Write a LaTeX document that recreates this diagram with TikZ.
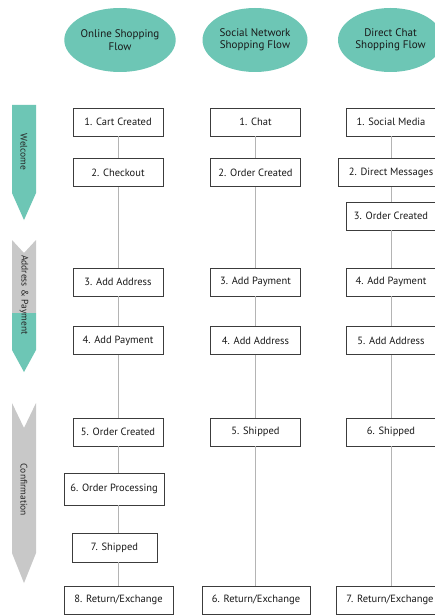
\documentclass[tikz,border=0pt]{standalone}
\usepackage{fontspec}
\setmainfont{PT Sans}
\usetikzlibrary{shapes.geometric}
\definecolor{flowteal}{HTML}{6DC6B5}
\definecolor{phasegray}{HTML}{C8C8C8}
\definecolor{boxline}{HTML}{3C3C3C}
\definecolor{linkgray}{HTML}{B4B4B4}

\begin{document}
\begin{tikzpicture}[x=1pt,y=-1pt,
    flow/.style={ellipse,fill=flowteal,minimum width=105pt,minimum height=64pt,inner sep=0pt,align=center,text=black!90,font=\fontsize{11}{12.5}\selectfont},
    stepbox/.style={draw=boxline,fill=white,line width=0.7pt,minimum width=90pt,minimum height=28pt,inner sep=2pt,text=black!90,font=\fontsize{10.5}{12}\selectfont},
    link/.style={draw=linkgray,line width=0.9pt},
    phase/.style={rotate=-90,inner sep=0pt,text=black!85,font=\fontsize{9.5}{11}\selectfont}]
    \fill[white] (0,0) rectangle (435,615);
    \useasboundingbox (0,0) rectangle (435,615);

    \fill[flowteal] (12,105)--(36,105)--(36,193)--(24,220)--(12,193)--cycle;
    \fill[phasegray] (12,240)--(24,253)--(36,240)--(36,313)--(12,313)--cycle;
    \fill[flowteal] (12,313)--(36,313)--(36,350)--(24,372)--(12,350)--cycle;
    \fill[phasegray] (12,403)--(24,428)--(36,403)--(36,553)--(24,583)--(12,553)--cycle;
    \node[phase] (welcome) at (24,152) {Welcome};
    \node[phase] (address) at (24,295) {Address \& Payment};
    \node[phase] (confirm) at (24,490) {Confirmation};

    \node[flow] (online) at (120,40) {Online Shopping\\Flow};
    \node[flow] (social) at (255,40) {Social Network\\Shopping Flow};
    \node[flow] (direct) at (390.5,40) {Direct Chat\\Shopping Flow};

    \node[stepbox] (o1) at (118,122) {1. Cart Created};
    \node[stepbox] (o2) at (118,172.5) {2. Checkout};
    \node[stepbox] (o3) at (118,282) {3. Add Address};
    \node[stepbox] (o4) at (118,340.5) {4. Add Payment};
    \node[stepbox] (o5) at (118,432) {5. Order Created};
    \node[stepbox,minimum width=100pt,minimum height=32pt] (o6) at (114,489) {6. Order Processing};
    \node[stepbox,minimum width=85pt,minimum height=29pt] (o7) at (114.5,547.5) {7. Shipped};
    \node[stepbox,minimum width=109pt] (o8) at (118.5,600) {8. Return/Exchange};

    \node[stepbox] (s1) at (255.5,122) {1. Chat};
    \node[stepbox] (s2) at (255.5,172.5) {2. Order Created};
    \node[stepbox] (s3) at (255.5,282) {3. Add Payment};
    \node[stepbox] (s4) at (255.5,340.5) {4. Add Address};
    \node[stepbox] (s5) at (255.5,432) {5. Shipped};
    \node[stepbox,minimum width=108pt] (s6) at (256,600) {6. Return/Exchange};

    \node[stepbox] (d1) at (391,122) {1. Social Media};
    \node[stepbox,minimum width=106pt] (d2) at (391,172.5) {2. Direct Messages};
    \node[stepbox] (d3) at (391,216) {3. Order Created};
    \node[stepbox] (d4) at (391,282) {4. Add Payment};
    \node[stepbox] (d5) at (391,340.5) {5. Add Address};
    \node[stepbox] (d6) at (391,432) {6. Shipped};
    \node[stepbox,minimum width=108pt] (d7) at (390,600) {7. Return/Exchange};

    \foreach \a/\b in {o1/o2,o2/o3,o3/o4,o4/o5,o5/o6,o6/o7,o7/o8}
        \draw[link] (\a.south -| o1) -- (\b.north -| o1);
    \foreach \a/\b in {s1/s2,s2/s3,s3/s4,s4/s5,s5/s6}
        \draw[link] (\a.south -| s1) -- (\b.north -| s1);
    \foreach \a/\b in {d1/d2,d2/d3,d3/d4,d4/d5,d5/d6,d6/d7}
        \draw[link] (\a.south -| d1) -- (\b.north -| d1);
\end{tikzpicture}
\end{document}
